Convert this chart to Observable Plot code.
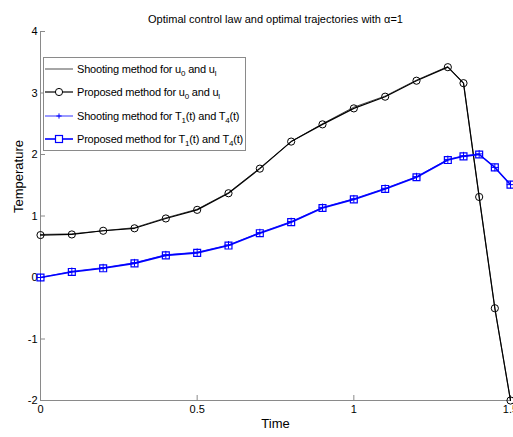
<!DOCTYPE html>
<html><head><meta charset="utf-8">
<script src="https://cdn.jsdelivr.net/npm/d3@7"></script>
<script src="https://cdn.jsdelivr.net/npm/@observablehq/plot@0.6"></script>
<style>
body{margin:0;background:#fff;font-family:"Liberation Sans",Arial,sans-serif;}
#wrap{position:relative;width:513px;height:437px;overflow:hidden;}
#legend{position:absolute;left:43px;top:57px;width:203px;height:94px;border:1px solid #8a8a8a;background:#fff;box-sizing:border-box;font-size:11px;letter-spacing:-0.2px;color:#000;}
.row{position:absolute;left:0;height:18px;display:flex;align-items:center;white-space:nowrap;}
.row svg{display:block;margin-right:2px;}
sub{font-size:8px;vertical-align:-3px;line-height:0;}
</style></head><body>
<div id="wrap"><div id="legend"></div></div>
<script>
const titleText = "Optimal control law and optimal trajectories with α=1";
const xLabel = "Time";
const yLabel = "Temperature";
const time = [0, 0.1, 0.2, 0.3, 0.4, 0.5, 0.6, 0.7, 0.8, 0.9, 1.0, 1.1, 1.2, 1.3, 1.35, 1.4, 1.45, 1.5];
const uProposed = [0.69, 0.70, 0.76, 0.80, 0.96, 1.10, 1.37, 1.77, 2.21, 2.49, 2.75, 2.94, 3.20, 3.42, 3.16, 1.31, -0.50, -2.00];
const uShooting = [0.70, 0.71, 0.76, 0.81, 0.97, 1.11, 1.38, 1.78, 2.21, 2.50, 2.77, 2.95, 3.21, 3.43, 3.16, 1.31, -0.50, -2.00];
const tProposed = [0.00, 0.09, 0.15, 0.23, 0.36, 0.40, 0.52, 0.72, 0.90, 1.13, 1.27, 1.44, 1.63, 1.91, 1.97, 2.00, 1.79, 1.51];
const tShooting = [0.00, 0.10, 0.16, 0.24, 0.37, 0.41, 0.53, 0.73, 0.91, 1.14, 1.28, 1.45, 1.64, 1.92, 1.98, 2.01, 1.79, 1.51];
const xTicks = [0, 0.5, 1, 1.5];
const yTicks = [-2, -1, 0, 1, 2, 3, 4];
const legendLabels = [
  "Shooting method for u<sub>0</sub> and u<sub>l</sub>",
  "Proposed method for u<sub>0</sub> and u<sub>l</sub>",
  "Shooting method for T<sub>1</sub>(t) and T<sub>4</sub>(t)",
  "Proposed method for T<sub>1</sub>(t) and T<sub>4</sub>(t)"
];

const table = time.map((t, i) => ({t, up: uProposed[i], us: uShooting[i], tp: tProposed[i], ts: tShooting[i]}));
const axisGray = "#8a8a8a";
const blue = "#0000ff";

const plot = Plot.plot({
  width: 513, height: 437,
  marginLeft: 40, marginRight: 3, marginTop: 31, marginBottom: 37,
  style: {fontFamily: "'Liberation Sans', Arial, sans-serif", fontSize: "11px", background: "transparent", color: "#000"},
  x: {domain: [0, 1.5]},
  y: {domain: [-2, 4]},
  marks: [
    Plot.frame({anchor: "left", stroke: axisGray}),
    Plot.frame({anchor: "bottom", stroke: axisGray}),
    Plot.axisX({ticks: xTicks, tickSize: -5, tickPadding: 10, stroke: axisGray, fill: "#000", label: null, tickFormat: d => String(d)}),
    Plot.axisY({ticks: yTicks, tickSize: -5, tickPadding: 8, stroke: axisGray, fill: "#000", label: null, tickFormat: d => String(d)}),
    Plot.line(table, {x: "t", y: "us", stroke: "#000", strokeWidth: 0.7}),
    Plot.line(table, {x: "t", y: "up", stroke: "#000", strokeWidth: 1.2}),
    Plot.dot(table, {x: "t", y: "up", r: 3.6, stroke: "#000", fill: "none", strokeWidth: 1}),
    Plot.line(table, {x: "t", y: "ts", stroke: blue, strokeWidth: 0.8}),
    Plot.line(table, {x: "t", y: "tp", stroke: blue, strokeWidth: 1.6}),
    Plot.dot(table, {x: "t", y: "ts", symbol: "plus", r: 2.6, stroke: blue, strokeWidth: 1}),
    Plot.dot(table, {x: "t", y: "tp", symbol: "square", r: 3.9, stroke: blue, fill: "none", strokeWidth: 1.2}),
    Plot.text([titleText], {text: d => d, frameAnchor: "top", dy: -16, fontSize: 11, fill: "#000"}),
    Plot.text([xLabel], {text: d => d, frameAnchor: "bottom", dy: 27, fontSize: 13, fill: "#000"}),
    Plot.text([yLabel], {text: d => d, frameAnchor: "left", dx: -22, dy: -3, rotate: -90, fontSize: 13, fill: "#000"})
  ]
});
document.getElementById("wrap").prepend(plot);

// legend swatches
const swatches = [
  `<line x1="1" x2="29" y1="9" y2="9" stroke="#000" stroke-width="0.7"/>`,
  `<line x1="1" x2="29" y1="9" y2="9" stroke="#000" stroke-width="1.2"/><circle cx="15" cy="9" r="3.6" fill="white" stroke="#000"/>`,
  `<line x1="1" x2="29" y1="9" y2="9" stroke="${blue}" stroke-width="0.8"/><path d="M12.4,9H17.6M15,6.4V11.6" stroke="${blue}"/>`,
  `<line x1="1" x2="29" y1="9" y2="9" stroke="${blue}" stroke-width="1.6"/><rect x="11.5" y="5.5" width="7" height="7" fill="white" stroke="${blue}" stroke-width="1.2"/>`
];
const legend = document.getElementById("legend");
legendLabels.forEach((lab, i) => {
  const row = document.createElement("div");
  row.className = "row";
  row.style.top = (2 + i * 23.3) + "px";
  row.innerHTML = `<svg width="31" height="18">${swatches[i]}</svg><span>${lab}</span>`;
  legend.appendChild(row);
});
</script>
</body></html>
